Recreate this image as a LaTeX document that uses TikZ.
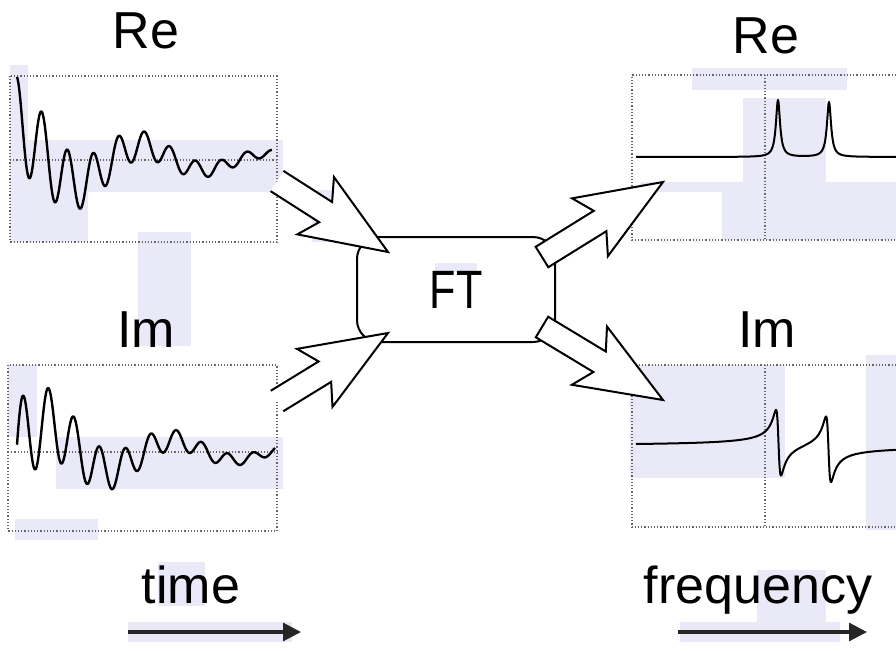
\documentclass[tikz,border=0pt]{standalone}
\usepackage{fontspec}
\setmainfont{Liberation Sans}
\usepackage{tikz}
\usetikzlibrary{arrows.meta, calc}

\definecolor{scanlav}{RGB}{175,175,230}

% hollow arrow with swept-back barbs from #1 to #2, #3 closes the tail
\newcommand\fatarrow[3]{%
  \fill[white] ($(#1)!6pt!90:(#2)$) -- ($(#2)!37.5pt!-9.2:(#1)$) -- ($(#2)!46.2pt!-21.6:(#1)$) -- (#2)
    -- ($(#2)!46.2pt!21.6:(#1)$) -- ($(#2)!37.5pt!9.2:(#1)$) -- ($(#1)!6pt!-90:(#2)$) -- cycle;
  \draw[fatline] ($(#1)!6pt!90:(#2)$) -- ($(#2)!37.5pt!-9.2:(#1)$) -- ($(#2)!46.2pt!-21.6:(#1)$) -- (#2)
    -- ($(#2)!46.2pt!21.6:(#1)$) -- ($(#2)!37.5pt!9.2:(#1)$) -- ($(#1)!6pt!-90:(#2)$) #3;}

\begin{document}
\begin{tikzpicture}[x=0.5pt, y=-0.5pt,
    frame/.style={densely dotted, black!60, line width=0.6pt},
    signal/.style={line width=1.2pt, line join=round},
    fatline/.style={line width=1pt, line join=miter},
    lbl/.style={anchor=base, font=\fontsize{26}{30}\selectfont},
    ftbox/.style={draw, line width=1pt, rounded corners=11pt, minimum width=99pt,
                  minimum height=52.5pt, font=\fontsize{27}{30}\selectfont},
    axarrow/.style={line width=1.6pt, black!85, -{Triangle[length=9pt, width=9pt]}},
    declare function={
      fre(\x)=50*exp(-(\x-16.4)/100)*cos(360*((\x-16.4)/25.6))+34*exp(-(\x-17)/150)*cos(360*((\x-17)/126));
      fim(\x)=50*exp(-(\x-16.4)/100)*sin(360*((\x-16.4)/25.6))+34*exp(-(\x-17)/150)*sin(360*((\x-17)/126));
      lor(\x,\c)=0.0625/(((\x-\c)/10)^2+0.0625);
      dsp(\x,\c)=0.5*((\c-\x)/10)/(((\x-\c)/10)^2+0.0625);
    }]
  \useasboundingbox (0,0) rectangle (896,650);

  % scanner highlight patches
  \foreach \xa/\ya/\xb/\yb in {10/65/28/242, 28/140/283/192, 28/192/88/242, 138/232/191/346,
      312/190/343/242, 8/365/37/437, 56/437/283/489, 15/519/98/540, 435/263/477/272,
      692/68/847/90, 743/98/826/182, 640/182/896/192, 722/192/896/240, 630/365/785/478,
      866/355/896/530, 158/562/205/606, 128/622/292/642, 757/570/826/622, 680/622/840/642}
    \fill[scanlav, fill opacity=0.275] (\xa,\ya) rectangle (\xb,\yb);

  % time domain
  \draw[frame] (10,76) rectangle (277,242);
  \draw[frame] (10,160) -- (277,160);
  \draw[signal, domain=17:272, samples=400] plot (\x, {160-fre(\x)});
  \draw[frame] (8,365) rectangle (277,531);
  \draw[frame] (8,452) -- (277,452);
  \draw[signal, domain=17:275, samples=400] plot (\x, {452-fim(\x)});

  % frequency domain
  \draw[frame] (896,75) -- (632,75) -- (632,240) -- (896,240);
  \draw[frame] (765,75) -- (765,240);
  \draw[signal, line width=1pt, domain=636:896, samples=521] plot (\x, {157-57*lor(\x,778)-55*lor(\x,829)});
  \draw[frame] (896,365) -- (632,365) -- (632,527) -- (896,527);
  \draw[frame] (765,365) -- (765,527);
  \draw[signal, line width=1pt, domain=636:896, samples=521] plot (\x, {446-33*dsp(\x,778.5)-33*dsp(\x,828.5)});

  \node[lbl] (reT) at (146,48) {Re};
  \node[lbl] (imT) at (146,347) {Im};
  \node[lbl] (reF) at (766,53) {Re};
  \node[lbl] (imF) at (767,347) {Im};

  \node[ftbox] (ft) at (456,289.5) {\scalebox{0.8}[1]{FT}};

  % big arrows in and out of FT
  \coordinate (in1) at (277,181);  \coordinate (tip1) at (388,252);
  \coordinate (in2) at (277,401);  \coordinate (tip2) at (388,333);
  \coordinate (out1) at (542,257); \coordinate (tip3) at (663,182);
  \coordinate (out2) at (542,327); \coordinate (tip4) at (663,400);
  \fatarrow{in1}{tip1}{}
  \fatarrow{in2}{tip2}{}
  \fatarrow{out1}{tip3}{-- cycle}
  \fatarrow{out2}{tip4}{-- cycle}

  % axis captions
  \node[lbl] (time) at (191,603) {time};
  \node[lbl] (freq) at (758,603) {frequency};
  \coordinate (ta) at (128,632); \coordinate (tb) at (301,632);
  \coordinate (fa) at (678,632); \coordinate (fb) at (867,632);
  \draw[axarrow] (ta) -- (tb);
  \draw[axarrow] (fa) -- (fb);
\end{tikzpicture}
\end{document}
